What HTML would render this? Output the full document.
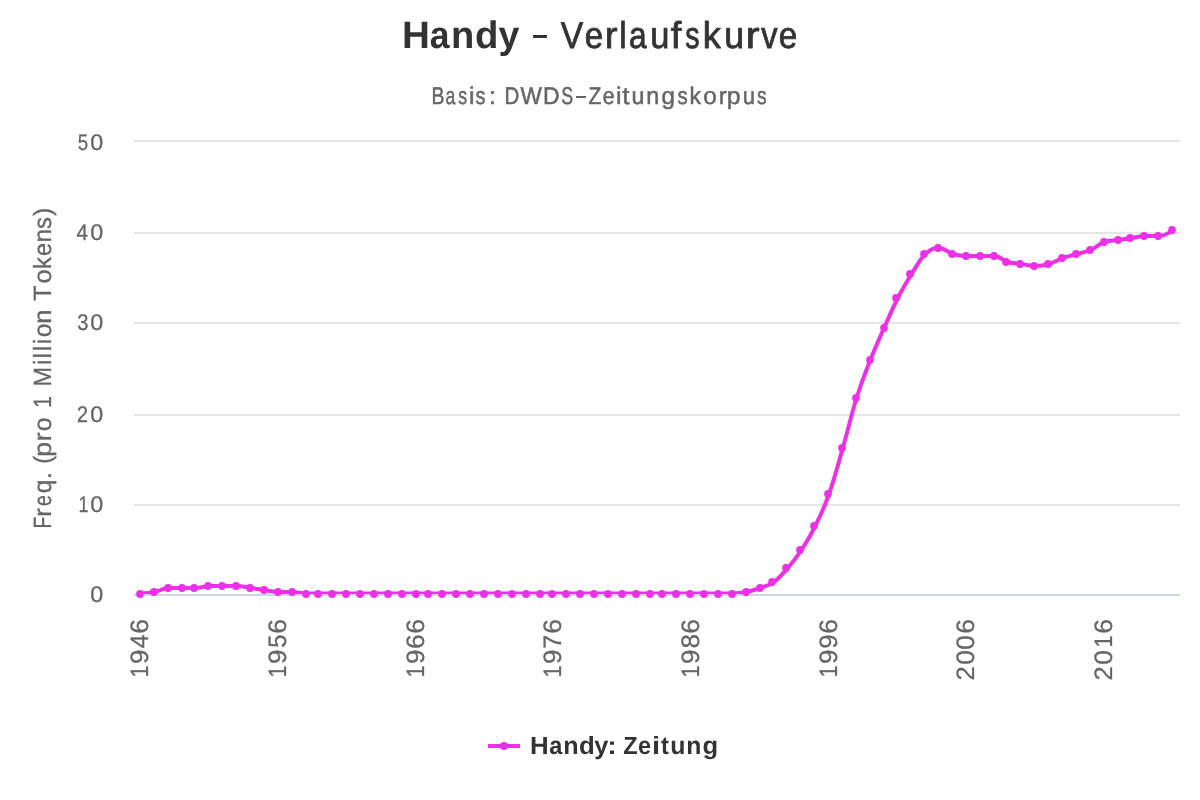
<!DOCTYPE html>
<html lang="de"><head><meta charset="utf-8"><title>Handy – Verlaufskurve</title>
<style>html,body{margin:0;padding:0;background:#fff}svg{display:block;will-change:transform}text{font-family:"Liberation Sans",sans-serif;text-rendering:geometricPrecision}</style></head>
<body>
<svg width="1200" height="800" viewBox="0 0 1200 800">
<rect width="1200" height="800" fill="#fff"/>
<rect x="134" y="140" width="1046" height="2" fill="#e6e6e6"/>
<rect x="134" y="232" width="1046" height="2" fill="#e6e6e6"/>
<rect x="134" y="322" width="1046" height="2" fill="#e6e6e6"/>
<rect x="134" y="414" width="1046" height="2" fill="#e6e6e6"/>
<rect x="134" y="504" width="1046" height="2" fill="#e6e6e6"/>
<rect x="134" y="594" width="1046" height="2" fill="#ccd6eb"/>
<g font-size="38.2" font-weight="bold" fill="#333333"><text transform="translate(402.00 48.10) scale(1.011 1)">H</text><text transform="translate(429.64 48.10) scale(0.929 1)">a</text><text transform="translate(450.93 48.10) scale(0.998 1)">n</text><text transform="translate(475.06 48.10) scale(1.005 1)">d</text><text transform="translate(498.62 48.10) scale(0.984 1)">y</text></g>
<rect x="533" y="35" width="14" height="3" fill="#333333"/>
<g font-size="37.4" stroke="#333333" stroke-width="0.8" stroke-linejoin="round" fill="#333333"><text transform="translate(560.72 47.75) scale(0.900 1)">V</text><text transform="translate(584.73 47.75) scale(0.881 1)">e</text><text transform="translate(604.83 47.75) scale(1.025 1)">r</text><text transform="translate(619.13 47.75) scale(0.888 1)">l</text><text transform="translate(629.07 47.75) scale(0.849 1)">a</text><text transform="translate(650.36 47.75) scale(0.921 1)">u</text><text transform="translate(670.83 47.75) scale(1.019 1)">f</text><text transform="translate(685.25 47.75) scale(0.767 1)">s</text><text transform="translate(702.75 47.75) scale(0.968 1)">k</text><text transform="translate(724.18 47.75) scale(0.957 1)">u</text><text transform="translate(745.79 47.75) scale(1.108 1)">r</text><text transform="translate(761.22 47.75) scale(0.869 1)">v</text><text transform="translate(778.77 47.75) scale(0.890 1)">e</text></g>
<g font-size="24.2" stroke="#666666" stroke-width="0.5" stroke-linejoin="round" fill="#666666"><text transform="translate(431.45 103.65) scale(0.803 1)">B</text><text transform="translate(445.48 103.65) scale(0.726 1)">a</text><text transform="translate(458.15 103.65) scale(0.734 1)">s</text><text transform="translate(469.02 103.65) scale(1.026 1)">i</text><text transform="translate(475.61 103.65) scale(0.825 1)">s</text><text transform="translate(489.02 103.65) scale(1.027 1)">:</text><text transform="translate(504.57 103.65) scale(0.846 1)">D</text><text transform="translate(520.51 103.65) scale(0.935 1)">W</text><text transform="translate(542.90 103.65) scale(0.947 1)">D</text><text transform="translate(561.29 103.65) scale(0.735 1)">S</text><text transform="translate(588.59 103.65) scale(0.869 1)">Z</text><text transform="translate(602.87 103.65) scale(0.884 1)">e</text><text transform="translate(616.02 103.65) scale(1.026 1)">i</text><text transform="translate(622.25 103.65) scale(1.069 1)">t</text><text transform="translate(631.61 103.65) scale(0.961 1)">u</text><text transform="translate(646.21 103.65) scale(0.966 1)">n</text><text transform="translate(661.48 103.65) scale(1.001 1)">g</text><text transform="translate(677.50 103.65) scale(0.844 1)">s</text><text transform="translate(689.54 103.65) scale(0.944 1)">k</text><text transform="translate(703.18 103.65) scale(1.002 1)">o</text><text transform="translate(718.77 103.65) scale(0.992 1)">r</text><text transform="translate(726.82 103.65) scale(1.023 1)">p</text><text transform="translate(742.68 103.65) scale(0.914 1)">u</text><text transform="translate(757.12 103.65) scale(0.798 1)">s</text></g>
<rect x="576" y="96" width="10" height="2" fill="#666666"/>
<g font-size="22.6" stroke="#666666" stroke-width="0.3" stroke-linejoin="round" fill="#666666"><text transform="translate(77.63 149.80) scale(0.824 1)">5</text><text transform="translate(90.22 149.80) scale(1.032 1)">0</text></g>
<g font-size="22.6" stroke="#666666" stroke-width="0.3" stroke-linejoin="round" fill="#666666"><text transform="translate(76.62 239.80) scale(0.917 1)">4</text><text transform="translate(90.22 239.80) scale(1.032 1)">0</text></g>
<g font-size="22.6" stroke="#666666" stroke-width="0.3" stroke-linejoin="round" fill="#666666"><text transform="translate(77.33 329.80) scale(0.893 1)">3</text><text transform="translate(90.22 329.80) scale(1.032 1)">0</text></g>
<g font-size="22.6" stroke="#666666" stroke-width="0.3" stroke-linejoin="round" fill="#666666"><text transform="translate(77.04 421.80) scale(0.874 1)">2</text><text transform="translate(90.22 421.80) scale(1.032 1)">0</text></g>
<g font-size="22.6" stroke="#666666" stroke-width="0.3" stroke-linejoin="round" fill="#666666"><text transform="translate(78.43 511.80) scale(0.799 1)">1</text><text transform="translate(90.22 511.80) scale(1.032 1)">0</text></g>
<g font-size="22.6" stroke="#666666" stroke-width="0.3" stroke-linejoin="round" fill="#666666"><text transform="translate(90.22 601.80) scale(1.032 1)">0</text></g>
<g font-size="25.2" stroke="#666666" stroke-width="0.3" stroke-linejoin="round" fill="#666666"><text transform="translate(148.10 677.39) rotate(-90) scale(0.853 1)">1</text><text transform="translate(148.10 664.05) rotate(-90) scale(1.034 1)">9</text><text transform="translate(148.10 648.25) rotate(-90) scale(0.988 1)">4</text><text transform="translate(148.10 633.72) rotate(-90) scale(1.051 1)">6</text></g>
<g font-size="25.2" stroke="#666666" stroke-width="0.3" stroke-linejoin="round" fill="#666666"><text transform="translate(286.10 677.39) rotate(-90) scale(0.853 1)">1</text><text transform="translate(286.10 664.05) rotate(-90) scale(1.034 1)">9</text><text transform="translate(286.10 647.81) rotate(-90) scale(0.939 1)">5</text><text transform="translate(286.10 633.72) rotate(-90) scale(1.051 1)">6</text></g>
<g font-size="25.2" stroke="#666666" stroke-width="0.3" stroke-linejoin="round" fill="#666666"><text transform="translate(424.10 677.39) rotate(-90) scale(0.853 1)">1</text><text transform="translate(424.10 664.05) rotate(-90) scale(1.034 1)">9</text><text transform="translate(424.10 649.02) rotate(-90) scale(1.051 1)">6</text><text transform="translate(424.10 633.72) rotate(-90) scale(1.051 1)">6</text></g>
<g font-size="25.2" stroke="#666666" stroke-width="0.3" stroke-linejoin="round" fill="#666666"><text transform="translate(561.10 677.39) rotate(-90) scale(0.853 1)">1</text><text transform="translate(561.10 664.05) rotate(-90) scale(1.034 1)">9</text><text transform="translate(561.10 648.71) rotate(-90) scale(0.996 1)">7</text><text transform="translate(561.10 633.72) rotate(-90) scale(1.051 1)">6</text></g>
<g font-size="25.2" stroke="#666666" stroke-width="0.3" stroke-linejoin="round" fill="#666666"><text transform="translate(699.10 677.39) rotate(-90) scale(0.853 1)">1</text><text transform="translate(699.10 664.05) rotate(-90) scale(1.034 1)">9</text><text transform="translate(699.10 648.59) rotate(-90) scale(1.038 1)">8</text><text transform="translate(699.10 633.72) rotate(-90) scale(1.051 1)">6</text></g>
<g font-size="25.2" stroke="#666666" stroke-width="0.3" stroke-linejoin="round" fill="#666666"><text transform="translate(837.10 677.39) rotate(-90) scale(0.853 1)">1</text><text transform="translate(837.10 664.05) rotate(-90) scale(1.034 1)">9</text><text transform="translate(837.10 648.84) rotate(-90) scale(1.026 1)">9</text><text transform="translate(837.10 633.72) rotate(-90) scale(1.051 1)">6</text></g>
<g font-size="25.2" stroke="#666666" stroke-width="0.3" stroke-linejoin="round" fill="#666666"><text transform="translate(974.10 680.53) rotate(-90) scale(1.017 1)">2</text><text transform="translate(974.10 664.80) rotate(-90) scale(1.049 1)">0</text><text transform="translate(974.10 649.65) rotate(-90) scale(1.045 1)">0</text><text transform="translate(974.10 633.72) rotate(-90) scale(1.051 1)">6</text></g>
<g font-size="25.2" stroke="#666666" stroke-width="0.3" stroke-linejoin="round" fill="#666666"><text transform="translate(1112.10 680.53) rotate(-90) scale(1.017 1)">2</text><text transform="translate(1112.10 664.80) rotate(-90) scale(1.049 1)">0</text><text transform="translate(1112.10 647.51) rotate(-90) scale(0.862 1)">1</text><text transform="translate(1112.10 633.72) rotate(-90) scale(1.051 1)">6</text></g>
<g font-size="24.9" stroke="#666666" stroke-width="0.3" stroke-linejoin="round" fill="#666666"><text transform="translate(51.10 528.44) rotate(-90) scale(0.780 1)">F</text><text transform="translate(51.10 516.65) rotate(-90) scale(1.034 1)">r</text><text transform="translate(51.10 505.91) rotate(-90) scale(0.779 1)">e</text><text transform="translate(51.10 493.33) rotate(-90) scale(0.978 1)">q</text><text transform="translate(51.10 479.09) rotate(-90) scale(1.000 1)">.</text><text transform="translate(51.10 463.79) rotate(-90) scale(0.960 1)">(</text><text transform="translate(51.10 456.70) rotate(-90) scale(1.066 1)">p</text><text transform="translate(51.10 441.21) rotate(-90) scale(1.073 1)">r</text><text transform="translate(51.10 431.35) rotate(-90) scale(1.000 1)">o</text><text transform="translate(51.10 408.09) rotate(-90) scale(0.863 1)">1</text><text transform="translate(51.10 386.54) rotate(-90) scale(0.942 1)">M</text><text transform="translate(51.10 365.09) rotate(-90) scale(1.000 1)">i</text><text transform="translate(51.10 358.51) rotate(-90) scale(1.000 1)">l</text><text transform="translate(51.10 351.26) rotate(-90) scale(1.000 1)">l</text><text transform="translate(51.10 344.24) rotate(-90) scale(1.000 1)">i</text><text transform="translate(51.10 337.35) rotate(-90) scale(1.000 1)">o</text><text transform="translate(51.10 323.63) rotate(-90) scale(1.022 1)">n</text><text transform="translate(51.10 300.85) rotate(-90) scale(1.000 1)">T</text><text transform="translate(51.10 283.46) rotate(-90) scale(1.016 1)">o</text><text transform="translate(51.10 269.31) rotate(-90) scale(0.977 1)">k</text><text transform="translate(51.10 256.10) rotate(-90) scale(0.941 1)">e</text><text transform="translate(51.10 242.55) rotate(-90) scale(0.976 1)">n</text><text transform="translate(51.10 229.07) rotate(-90) scale(0.954 1)">s</text><text transform="translate(51.10 216.10) rotate(-90) scale(1.004 1)">)</text></g>
<clipPath id="c"><rect x="134" y="140" width="1046" height="454"/></clipPath>
<path clip-path="url(#c)" d="M140.88 593.50C140.88 593.50 149.14 593.10 154.64 592.00C160.15 590.90 162.90 588.00 168.41 588.00C173.91 588.00 176.67 588.00 182.17 588.00C187.68 588.00 190.43 588.00 195.93 588.00C201.44 588.00 204.19 586.00 209.70 586.00C215.20 586.00 217.96 586.00 223.46 586.00C228.97 586.00 231.72 586.00 237.22 586.00C242.73 586.00 245.48 587.20 250.99 588.00C256.49 588.80 259.24 589.20 264.75 590.00C270.26 590.80 273.01 592.00 278.51 592.00C284.02 592.00 286.77 592.00 292.28 592.00C297.78 592.00 300.53 593.50 306.04 593.50C311.54 593.50 314.30 593.50 319.80 593.50C325.31 593.50 328.06 593.50 333.57 593.50C339.07 593.50 341.82 593.50 347.33 593.50C352.83 593.50 355.59 593.50 361.09 593.50C366.60 593.50 369.35 593.50 374.86 593.50C380.36 593.50 383.11 593.50 388.62 593.50C394.12 593.50 396.88 593.50 402.38 593.50C407.89 593.50 410.64 593.50 416.14 593.50C421.65 593.50 424.40 593.50 429.91 593.50C435.41 593.50 438.17 593.50 443.67 593.50C449.18 593.50 451.93 593.50 457.43 593.50C462.94 593.50 465.69 593.50 471.20 593.50C476.70 593.50 479.46 593.50 484.96 593.50C490.47 593.50 493.22 593.50 498.72 593.50C504.23 593.50 506.98 593.50 512.49 593.50C517.99 593.50 520.74 593.50 526.25 593.50C531.76 593.50 534.51 593.50 540.01 593.50C545.52 593.50 548.27 593.50 553.78 593.50C559.28 593.50 562.03 593.50 567.54 593.50C573.04 593.50 575.80 593.50 581.30 593.50C586.81 593.50 589.56 593.50 595.07 593.50C600.57 593.50 603.32 593.50 608.83 593.50C614.33 593.50 617.09 593.50 622.59 593.50C628.10 593.50 630.85 593.50 636.36 593.50C641.86 593.50 644.61 593.50 650.12 593.50C655.62 593.50 658.38 593.50 663.88 593.50C669.39 593.50 672.14 593.50 677.64 593.50C683.15 593.50 685.90 593.50 691.41 593.50C696.91 593.50 699.67 593.50 705.17 593.50C710.68 593.50 713.43 593.50 718.93 593.50C724.44 593.50 727.19 593.50 732.70 593.50C738.20 593.50 740.96 593.10 746.46 592.00C751.97 590.90 754.72 590.00 760.22 588.00C765.73 586.00 768.48 586.00 773.99 582.00C779.49 578.00 782.24 574.40 787.75 568.00C793.26 561.60 796.01 558.40 801.51 550.00C807.02 541.60 809.77 537.20 815.28 526.00C820.78 514.80 823.53 509.60 829.04 494.00C834.54 478.40 837.30 467.20 842.80 448.00C848.31 428.80 851.06 415.60 856.57 398.00C862.07 380.40 864.82 374.00 870.33 360.00C875.83 346.00 878.59 340.40 884.09 328.00C889.60 315.60 892.35 308.80 897.86 298.00C903.36 287.20 906.11 282.80 911.62 274.00C917.12 265.20 919.88 259.20 925.38 254.00C930.89 248.80 933.64 248.00 939.14 248.00C944.65 248.00 947.40 252.40 952.91 254.00C958.41 255.60 961.17 256.00 966.67 256.00C972.18 256.00 974.93 256.00 980.43 256.00C985.94 256.00 988.69 256.00 994.20 256.00C999.70 256.00 1002.46 260.40 1007.96 262.00C1013.47 263.60 1016.22 263.20 1021.72 264.00C1027.23 264.80 1029.98 266.00 1035.49 266.00C1040.99 266.00 1043.74 265.60 1049.25 264.00C1054.76 262.40 1057.51 260.00 1063.01 258.00C1068.52 256.00 1071.27 255.60 1076.78 254.00C1082.28 252.40 1085.03 252.40 1090.54 250.00C1096.04 247.60 1098.80 244.00 1104.30 242.00C1109.81 240.00 1112.56 240.80 1118.07 240.00C1123.57 239.20 1126.32 238.80 1131.83 238.00C1137.33 237.20 1140.09 236.00 1145.59 236.00C1151.10 236.00 1153.85 236.00 1159.36 236.00C1164.86 236.00 1173.12 230.00 1173.12 230.00" fill="none" stroke="#ed2fe6" stroke-width="4" stroke-linejoin="round" stroke-linecap="round"/>
<g fill="#ed2fe6"><ellipse cx="140" cy="594" rx="3.85" ry="4"/><ellipse cx="154" cy="592" rx="3.85" ry="4"/><ellipse cx="168" cy="588" rx="3.85" ry="4"/><ellipse cx="182" cy="588" rx="3.85" ry="4"/><ellipse cx="194" cy="588" rx="3.85" ry="4"/><ellipse cx="208" cy="586" rx="3.85" ry="4"/><ellipse cx="222" cy="586" rx="3.85" ry="4"/><ellipse cx="236" cy="586" rx="3.85" ry="4"/><ellipse cx="250" cy="588" rx="3.85" ry="4"/><ellipse cx="264" cy="590" rx="3.85" ry="4"/><ellipse cx="278" cy="592" rx="3.85" ry="4"/><ellipse cx="292" cy="592" rx="3.85" ry="4"/><ellipse cx="306" cy="594" rx="3.85" ry="4"/><ellipse cx="318" cy="594" rx="3.85" ry="4"/><ellipse cx="332" cy="594" rx="3.85" ry="4"/><ellipse cx="346" cy="594" rx="3.85" ry="4"/><ellipse cx="360" cy="594" rx="3.85" ry="4"/><ellipse cx="374" cy="594" rx="3.85" ry="4"/><ellipse cx="388" cy="594" rx="3.85" ry="4"/><ellipse cx="402" cy="594" rx="3.85" ry="4"/><ellipse cx="416" cy="594" rx="3.85" ry="4"/><ellipse cx="428" cy="594" rx="3.85" ry="4"/><ellipse cx="442" cy="594" rx="3.85" ry="4"/><ellipse cx="456" cy="594" rx="3.85" ry="4"/><ellipse cx="470" cy="594" rx="3.85" ry="4"/><ellipse cx="484" cy="594" rx="3.85" ry="4"/><ellipse cx="498" cy="594" rx="3.85" ry="4"/><ellipse cx="512" cy="594" rx="3.85" ry="4"/><ellipse cx="526" cy="594" rx="3.85" ry="4"/><ellipse cx="540" cy="594" rx="3.85" ry="4"/><ellipse cx="552" cy="594" rx="3.85" ry="4"/><ellipse cx="566" cy="594" rx="3.85" ry="4"/><ellipse cx="580" cy="594" rx="3.85" ry="4"/><ellipse cx="594" cy="594" rx="3.85" ry="4"/><ellipse cx="608" cy="594" rx="3.85" ry="4"/><ellipse cx="622" cy="594" rx="3.85" ry="4"/><ellipse cx="636" cy="594" rx="3.85" ry="4"/><ellipse cx="650" cy="594" rx="3.85" ry="4"/><ellipse cx="662" cy="594" rx="3.85" ry="4"/><ellipse cx="676" cy="594" rx="3.85" ry="4"/><ellipse cx="690" cy="594" rx="3.85" ry="4"/><ellipse cx="704" cy="594" rx="3.85" ry="4"/><ellipse cx="718" cy="594" rx="3.85" ry="4"/><ellipse cx="732" cy="594" rx="3.85" ry="4"/><ellipse cx="746" cy="592" rx="3.85" ry="4"/><ellipse cx="760" cy="588" rx="3.85" ry="4"/><ellipse cx="772" cy="582" rx="3.85" ry="4"/><ellipse cx="786" cy="568" rx="3.85" ry="4"/><ellipse cx="800" cy="550" rx="3.85" ry="4"/><ellipse cx="814" cy="526" rx="3.85" ry="4"/><ellipse cx="828" cy="494" rx="3.85" ry="4"/><ellipse cx="842" cy="448" rx="3.85" ry="4"/><ellipse cx="856" cy="398" rx="3.85" ry="4"/><ellipse cx="870" cy="360" rx="3.85" ry="4"/><ellipse cx="884" cy="328" rx="3.85" ry="4"/><ellipse cx="896" cy="298" rx="3.85" ry="4"/><ellipse cx="910" cy="274" rx="3.85" ry="4"/><ellipse cx="924" cy="254" rx="3.85" ry="4"/><ellipse cx="938" cy="248" rx="3.85" ry="4"/><ellipse cx="952" cy="254" rx="3.85" ry="4"/><ellipse cx="966" cy="256" rx="3.85" ry="4"/><ellipse cx="980" cy="256" rx="3.85" ry="4"/><ellipse cx="994" cy="256" rx="3.85" ry="4"/><ellipse cx="1006" cy="262" rx="3.85" ry="4"/><ellipse cx="1020" cy="264" rx="3.85" ry="4"/><ellipse cx="1034" cy="266" rx="3.85" ry="4"/><ellipse cx="1048" cy="264" rx="3.85" ry="4"/><ellipse cx="1062" cy="258" rx="3.85" ry="4"/><ellipse cx="1076" cy="254" rx="3.85" ry="4"/><ellipse cx="1090" cy="250" rx="3.85" ry="4"/><ellipse cx="1104" cy="242" rx="3.85" ry="4"/><ellipse cx="1118" cy="240" rx="3.85" ry="4"/><ellipse cx="1130" cy="238" rx="3.85" ry="4"/><ellipse cx="1144" cy="236" rx="3.85" ry="4"/><ellipse cx="1158" cy="236" rx="3.85" ry="4"/><ellipse cx="1172" cy="230" rx="3.85" ry="4"/></g>
<rect x="488" y="744" width="32" height="4" fill="#ed2fe6"/><circle cx="504" cy="746" r="4" fill="#ed2fe6"/>
<g font-size="24.9" font-weight="bold" fill="#333333"><text transform="translate(529.99 754.00) scale(1.039 1)">H</text><text transform="translate(549.29 754.00) scale(0.947 1)">a</text><text transform="translate(563.24 754.00) scale(1.012 1)">n</text><text transform="translate(578.97 754.00) scale(1.036 1)">d</text><text transform="translate(594.35 754.00) scale(1.019 1)">y</text><text transform="translate(607.14 754.00) scale(1.147 1)">:</text><text transform="translate(623.29 754.00) scale(0.949 1)">Z</text><text transform="translate(638.06 754.00) scale(0.945 1)">e</text><text transform="translate(651.95 754.00) scale(1.176 1)">i</text><text transform="translate(661.06 754.00) scale(0.946 1)">t</text><text transform="translate(670.31 754.00) scale(1.000 1)">u</text><text transform="translate(686.16 754.00) scale(0.996 1)">n</text><text transform="translate(702.48 754.00) scale(1.028 1)">g</text></g>
</svg>
</body></html>
